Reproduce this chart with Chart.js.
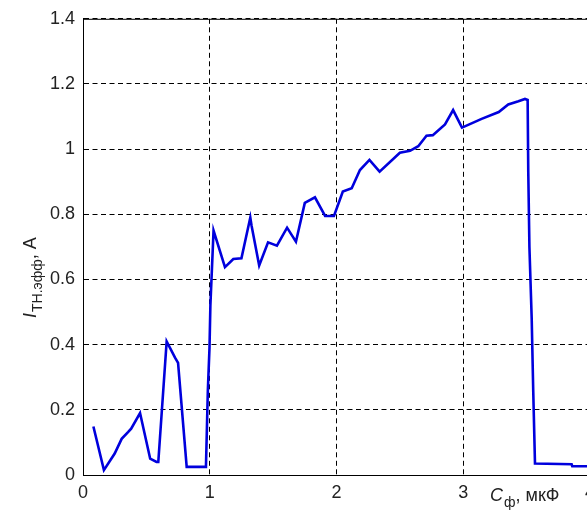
<!DOCTYPE html>
<html>
<head>
<meta charset="utf-8">
<script src="https://cdn.jsdelivr.net/npm/chart.js@4/dist/chart.umd.min.js"></script>
<style>
  html, body { margin: 0; padding: 0; background: #fff; overflow: hidden; width: 587px; height: 511px; }
  #wrap { position: relative; width: 620px; height: 511px; }
</style>
</head>
<body>
<div id="wrap"><canvas id="c" width="620" height="511"></canvas></div>
<script>
// Filter capacitance, µF
const capacitance = [
  0.082, 0.165, 0.25, 0.305, 0.357, 0.38, 0.45, 0.53, 0.58, 0.594, 0.66, 0.726, 0.75, 0.818,
  0.97, 0.978, 0.985, 0.998, 1.005, 1.03, 1.12, 1.186, 1.25, 1.32, 1.33, 1.39, 1.46, 1.53,
  1.61, 1.68, 1.75, 1.83, 1.91, 1.98, 2.05, 2.12, 2.185, 2.26, 2.34, 2.50, 2.58, 2.645,
  2.71, 2.76, 2.856, 2.92, 2.99, 3.145, 3.28, 3.355, 3.435, 3.487, 3.508, 3.513, 3.522,
  3.54, 3.552, 3.566, 3.855, 3.86, 4.0
];
// Effective transformer current, A
const current = [
  0.149, 0.015, 0.066, 0.111, 0.132, 0.142, 0.19, 0.05, 0.04, 0.04, 0.41, 0.36, 0.344, 0.025,
  0.025, 0.15, 0.26, 0.39, 0.52, 0.75, 0.638, 0.663, 0.665, 0.79, 0.765, 0.643, 0.714, 0.704,
  0.759, 0.716, 0.835, 0.852, 0.795, 0.795, 0.87, 0.88, 0.936, 0.967, 0.931, 0.989, 0.995, 1.009,
  1.041, 1.043, 1.076, 1.12, 1.066, 1.093, 1.114, 1.137, 1.147, 1.154, 1.151, 0.93, 0.70,
  0.48, 0.26, 0.035, 0.033, 0.027, 0.027
];
const xTicks = [0, 1, 2, 3, 4];
const xTickLabels = ['0', '1', '2', '3', '4'];
const yTicks = [0, 0.2, 0.4, 0.6, 0.8, 1, 1.2, 1.4];
const yTickLabels = ['0', '0.2', '0.4', '0.6', '0.8', '1', '1.2', '1.4'];

const FONT = "'Liberation Sans', Arial, sans-serif";
const TEXT = '#222';

const points = capacitance.map((x, i) => ({ x, y: current[i] }));

// Axis captions and the top frame line
const captions = {
  id: 'captions',
  afterDraw(chart) {
    const { ctx, chartArea } = chart;
    ctx.save();
    ctx.strokeStyle = '#000';
    ctx.lineWidth = 1;
    ctx.beginPath();
    ctx.moveTo(chartArea.left, chartArea.top + 0.5);
    ctx.lineTo(chartArea.right, chartArea.top + 0.5);
    ctx.stroke();

    ctx.fillStyle = TEXT;
    ctx.textBaseline = 'alphabetic';
    ctx.textAlign = 'left';

    // x caption: C_ф, мкФ
    let x = 490, y = 501;
    ctx.font = 'italic 18px ' + FONT;
    ctx.fillText('C', x, y);
    x += ctx.measureText('C').width + 1;
    ctx.font = '14px ' + FONT;
    ctx.fillText('ф', x, y + 6);
    x += ctx.measureText('ф').width;
    ctx.font = '18px ' + FONT;
    ctx.fillText(', мкФ', x, y);

    // y caption: I_ТН.эфф, А (rotated)
    ctx.translate(36, 318);
    ctx.rotate(-Math.PI / 2);
    let t = 0;
    ctx.font = 'italic 18px ' + FONT;
    ctx.fillText('I', t, 0);
    t += ctx.measureText('I').width + 1;
    ctx.font = '14px ' + FONT;
    ctx.fillText('ТН.эфф', t, 6);
    t += ctx.measureText('ТН.эфф').width;
    ctx.font = '18px ' + FONT;
    ctx.fillText(', А', t, 0);
    ctx.restore();
  }
};

new Chart(document.getElementById('c'), {
  type: 'scatter',
  data: {
    datasets: [{
      data: points,
      showLine: true,
      borderColor: '#0000dd',
      borderWidth: 2.6,
      pointRadius: 0,
      tension: 0,
      fill: false
    }]
  },
  options: {
    responsive: false,
    animation: false,
    events: [],
    layout: { padding: { top: 17, right: 30, left: 0, bottom: 0 } },
    plugins: { legend: { display: false }, tooltip: { enabled: false } },
    scales: {
      x: {
        type: 'linear',
        min: 0, max: 4,
        afterBuildTicks: s => { s.ticks = xTicks.map(v => ({ value: v })); },
        afterFit: s => { s.height = 36; },
        grid: { color: '#000', lineWidth: 1, drawTicks: false },
        border: { display: true, color: '#000', width: 1, dash: [5, 3.5] },
        ticks: {
          color: TEXT, font: { family: FONT, size: 18 }, padding: 7, maxRotation: 0,
          callback: v => xTickLabels[xTicks.indexOf(v)]
        }
      },
      y: {
        type: 'linear',
        min: 0, max: 1.4,
        afterBuildTicks: s => { s.ticks = yTicks.map(v => ({ value: v })); },
        afterFit: s => { s.width = 83; },
        grid: { color: '#000', lineWidth: 1, drawTicks: false },
        border: { display: true, color: '#000', width: 1, dash: [5, 3.5] },
        ticks: {
          color: TEXT, font: { family: FONT, size: 18 }, padding: 8,
          callback: v => yTickLabels[yTicks.indexOf(v)]
        }
      }
    }
  },
  plugins: [captions]
});
</script>
</body>
</html>
